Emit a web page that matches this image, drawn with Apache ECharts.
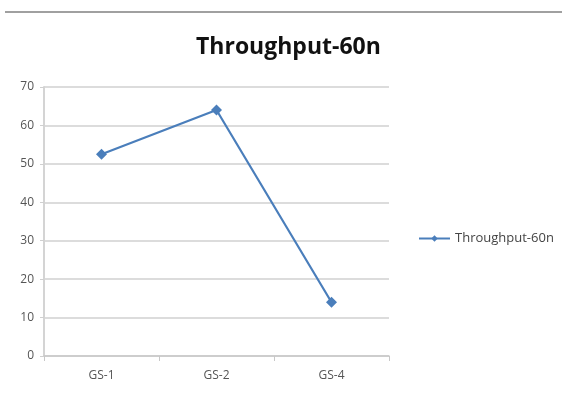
<!DOCTYPE html>
<html>
<head>
<meta charset="utf-8">
<script src="https://cdn.jsdelivr.net/npm/echarts@6/dist/echarts.min.js"></script>
<style>
html,body{margin:0;padding:0;background:#fff;}
#chart{width:562px;height:396px;}
</style>
</head>
<body>
<div id="chart"></div>
<script>
// Throughput per configuration
const categories = ['GS-1', 'GS-2', 'GS-4'];
const throughput = [52.5, 64, 14];
const seriesName = 'Throughput-60n';

const chart = echarts.init(document.getElementById('chart'), null, {renderer: 'canvas'});
chart.setOption({
  animation: false,
  backgroundColor: '#fff',
  graphic: [{
    type: 'line',
    shape: {x1: 5, y1: 12, x2: 562, y2: 12},
    style: {stroke: '#a0a0a0', lineWidth: 2}
  }],
  title: {
    text: seriesName,
    left: 191,
    top: 31,
    textStyle: {fontFamily: 'Open Sans', fontSize: 23, fontWeight: 'bold', color: '#111'}
  },
  legend: {
    left: 413,
    top: 227,
    itemWidth: 31,
    itemHeight: 8,
    itemGap: 3,
    data: [{name: seriesName}],
    textStyle: {fontFamily: 'Open Sans', fontSize: 13, color: '#444'}
  },
  grid: {left: 44, top: 87, right: 173, bottom: 40, containLabel: false},
  xAxis: {
    type: 'category',
    data: categories,
    boundaryGap: true,
    axisLine: {lineStyle: {color: '#c8c8c8', width: 1.5}},
    axisTick: {show: true, length: 5, lineStyle: {color: '#c8c8c8'}},
    axisLabel: {fontFamily: 'Open Sans', fontSize: 12, color: '#555', margin: 14}
  },
  yAxis: {
    type: 'value',
    min: 0,
    max: 70,
    interval: 10,
    axisLine: {show: true, lineStyle: {color: '#d4d4d4', width: 2}},
    axisTick: {show: true, length: 4, lineStyle: {color: '#d0d0d0'}},
    axisLabel: {fontFamily: 'Open Sans', fontSize: 12, color: '#555', margin: 10},
    splitLine: {lineStyle: {color: '#d0d0d0', width: 1.5}}
  },
  series: [{
    name: seriesName,
    type: 'line',
    data: throughput,
    symbol: 'diamond',
    symbolSize: 11,
    lineStyle: {color: '#4a7ebb', width: 2.2},
    itemStyle: {color: '#4a7ebb'}
  }]
});
</script>
</body>
</html>
